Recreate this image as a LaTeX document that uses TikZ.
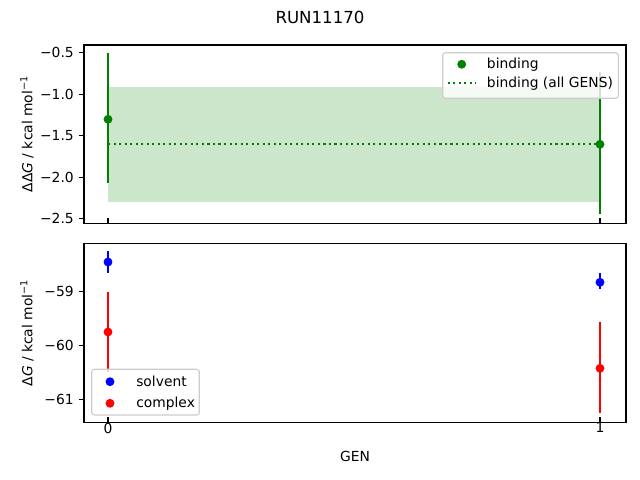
\documentclass[tikz,border=0pt]{standalone}
\usepackage{fontspec}
\setmainfont{DejaVu Sans}
\usetikzlibrary{calc,shapes}
\definecolor{vert}{RGB}{0,128,0}
\definecolor{bleu}{RGB}{0,0,255}
\definecolor{rouge}{RGB}{255,0,0}
\tikzset{
	cadre/.style={line width=0.8bp},
	barre/.style={line width=1.5bp},
	lgd/.style={rounded corners=2pt,draw=black!20,fill=white,fill opacity=0.8,line width=0.8bp},
	etiq/.style={font=\fontsize{10}{12}\selectfont,inner sep=0pt}
}
\begin{document}
\begin{tikzpicture}[x=0.01in,y=-0.01in]
				\useasboundingbox (0,0) rectangle (640,480);
				\node[font=\fontsize{12}{14}\selectfont] (titre) at (320,17) {RUN11170};
				% Graphe du haut
				\fill[vert,opacity=0.2] (108,86.7) rectangle (600,201.7);
				\draw[vert,barre,dash pattern=on 1.5bp off 2.475bp] (108,144.3) -- (600,144.3);
				\draw[vert,barre] (108,53.3) -- (108,183.3);
				\fill[vert] (108,119.3) circle (3.2bp);
				\draw[vert,barre] (600,71.7) -- (600,214.3);
				\fill[vert] (600,144.3) circle (3.2bp);
				\draw[cadre] (84,45) rectangle (626,223.3);
				\foreach \y/\t in {52.7/0.5,94.2/1.0,135.7/1.5,177.2/2.0,218.7/2.5}
					\draw[cadre] (84,\y) -- ++(-3.5bp,0) node[left,etiq,xshift=-3.5bp]{−\t};
				\foreach \x in {108,600}
					\draw[cadre] (\x,223.3) -- ++(0,3.5bp);
				\node[etiq,rotate=90] (ylabhaut) at (27,134) {ΔΔ\textit{G} / kcal mol\textsuperscript{−1}};
				% Légende du haut
				\draw[lgd] (442.7,52.7) rectangle (618.3,98.3);
				\fill[vert] (461.7,64.3) circle (3.2bp);
				\draw[vert,barre,dash pattern=on 1.5bp off 2.475bp] (447.8,83.3) -- (475.6,83.3);
				\node[etiq,anchor=west] (lbind) at (486.7,64.3) {binding};
				\node[etiq,anchor=west] (lbindall) at (486.7,83.3) {binding (all GENS)};
				% Graphe du bas
				\draw[bleu,barre] (108,251) -- (108,272.7);
				\fill[bleu] (108,262) circle (3.2bp);
				\draw[rouge,barre] (108,291.7) -- (108,372);
				\fill[rouge] (108,332) circle (3.2bp);
				\draw[bleu,barre] (600,273.3) -- (600,289.3);
				\fill[bleu] (600,282.3) circle (3.2bp);
				\draw[rouge,barre] (600,322.3) -- (600,413.3);
				\fill[rouge] (600,368.3) circle (3.2bp);
				\draw[cadre] (84,243.3) rectangle (626,422.3);
				\foreach \y/\t in {291.7/59,345.4/60,399.1/61}
					\draw[cadre] (84,\y) -- ++(-3.5bp,0) node[left,etiq,xshift=-3.5bp]{−\t};
				\foreach \x/\t in {108/0,600/1}
					\draw[cadre] (\x,422.3) -- ++(0,3.5bp) node[below,etiq,yshift=-3.5bp]{\t};
				\node[etiq,rotate=90] (ylabbas) at (27,333) {Δ\textit{G} / kcal mol\textsuperscript{−1}};
				\node[etiq] (xlab) at (355,456.7) {GEN};
				% Légende du bas
				\draw[lgd] (91.7,369.3) rectangle (199.3,415);
				\fill[bleu] (110,381.7) circle (3.2bp);
				\fill[rouge] (110,403.3) circle (3.2bp);
				\node[etiq,anchor=west] (lsolv) at (136,381.7) {solvent};
				\node[etiq,anchor=west] (lcompl) at (136,403.3) {complex};
\end{tikzpicture}
\end{document}
